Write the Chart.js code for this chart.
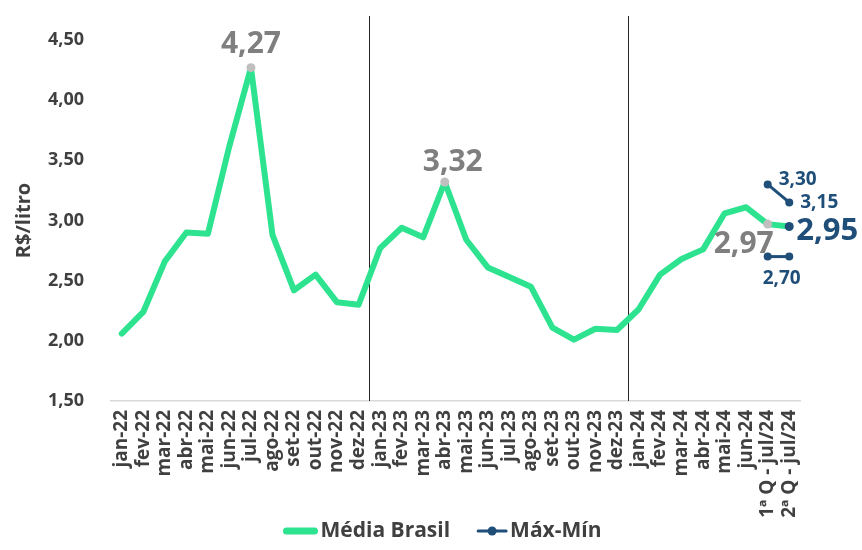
<!DOCTYPE html>
<html>
<head>
<meta charset="utf-8">
<script src="https://cdn.jsdelivr.net/npm/chart.js@4.4.1/dist/chart.umd.min.js"></script>
<style>
  html, body { margin: 0; padding: 0; background: #fff; }
  #wrap { width: 862px; height: 550px; position: relative; }
</style>
</head>
<body>
<div id="wrap"><canvas id="chart"></canvas></div>
<script>
// ===== DATA =====
const months = ['jan-22','fev-22','mar-22','abr-22','mai-22','jun-22','jul-22','ago-22','set-22','out-22','nov-22','dez-22',
  'jan-23','fev-23','mar-23','abr-23','mai-23','jun-23','jul-23','ago-23','set-23','out-23','nov-23','dez-23',
  'jan-24','fev-24','mar-24','abr-24','mai-24','jun-24','1ª Q - jul/24','2ª Q - jul/24'];
const mediaBrasil = [2.06,2.24,2.66,2.90,2.89,3.62,4.27,2.88,2.42,2.55,2.32,2.30,
  2.77,2.94,2.86,3.32,2.84,2.61,2.53,2.45,2.11,2.01,2.10,2.09,
  2.26,2.55,2.68,2.76,3.06,3.11,2.97,2.95];
const maxValues = [3.30, 3.15];   // 1ª Q, 2ª Q jul/24
const minValues = [2.70, 2.70];
const yTicks = [1.5, 2.0, 2.5, 3.0, 3.5, 4.0, 4.5];
const yearStarts = [12, 24];        // index of jan-23, jan-24
const highlight = [6, 15, 30, 31];  // points with labels

const GREEN = '#2EE38F', BLUE = '#1F4E79', GRAY = '#7F7F7F', PTGRAY = '#BFBFBF', TXT = '#404040';
const FONT = "'Open Sans', sans-serif";
const fmt = v => v.toFixed(2).replace('.', ',');

const pad = arr => Array(months.length - arr.length).fill(null).concat(arr);

// label placement: [dataset, index, align, dx, dy, size, color]
const labelDefs = [
  [0, 6, 'center', 0, -15, 30, GRAY],
  [0, 15, 'center', 8, -11, 30, GRAY],
  [0, 30, 'right', 6, 29, 30, GRAY],
  [0, 31, 'left', 7, 13, 31, BLUE],
  [1, 30, 'left', 11, 1, 19, BLUE],
  [1, 31, 'left', 11, 6, 19, BLUE],
  [2, 30, 'center', 14, 27, 19, BLUE],
];

const yearLines = {
  id: 'yearLines',
  beforeDatasetsDraw(chart) {
    const {ctx, chartArea, scales: {x}} = chart;
    ctx.save();
    ctx.strokeStyle = '#262626';
    ctx.lineWidth = 1;
    yearStarts.forEach(i => {
      const px = Math.round((x.getPixelForValue(i - 1) + x.getPixelForValue(i)) / 2) + 0.5;
      ctx.beginPath();
      ctx.moveTo(px, 16);
      ctx.lineTo(px, chartArea.bottom);
      ctx.stroke();
    });
    ctx.restore();
  }
};

const valueLabels = {
  id: 'valueLabels',
  afterDatasetsDraw(chart) {
    const ctx = chart.ctx;
    ctx.save();
    labelDefs.forEach(([ds, i, align, dx, dy, size, color]) => {
      const el = chart.getDatasetMeta(ds).data[i];
      const v = chart.data.datasets[ds].data[i];
      ctx.font = `700 ${size}px ${FONT}`;
      ctx.fillStyle = color;
      ctx.textAlign = align;
      ctx.textBaseline = 'alphabetic';
      ctx.fillText(fmt(v), el.x + dx, el.y + dy);
    });
    ctx.restore();
  }
};

// legend drawn by hand so it sits where the original one does
const customLegend = {
  id: 'customLegend',
  afterDraw(chart) {
    const ctx = chart.ctx;
    const items = chart.data.datasets.filter(d => !d.noLegend);
    ctx.save();
    ctx.font = `700 21px ${FONT}`;
    const iconW = 36, gap = 2, itemGap = 26;
    const widths = items.map(d => iconW + gap + ctx.measureText(d.label).width);
    const total = widths.reduce((s, w) => s + w, 0) + itemGap * (items.length - 1);
    let x = 444 - total / 2;
    const y = 531;
    items.forEach((d, k) => {
      ctx.strokeStyle = d.borderColor;
      ctx.lineCap = 'round';
      if (d.legendDot) {
        ctx.lineWidth = 3;
        ctx.beginPath(); ctx.moveTo(x + 2, y); ctx.lineTo(x + iconW - 6, y); ctx.stroke();
        ctx.fillStyle = d.borderColor;
        ctx.beginPath(); ctx.arc(x + (iconW - 4) / 2, y, 4.5, 0, Math.PI * 2); ctx.fill();
      } else {
        ctx.lineWidth = 7;
        ctx.beginPath(); ctx.moveTo(x + 4, y); ctx.lineTo(x + iconW - 4, y); ctx.stroke();
      }
      ctx.fillStyle = TXT;
      ctx.textAlign = 'left';
      ctx.textBaseline = 'middle';
      ctx.fillText(d.label, x + iconW + gap - (d.legendDot ? 4 : 0), y);
      x += widths[k] + itemGap;
    });
    ctx.restore();
  }
};

new Chart(document.getElementById('chart'), {
  type: 'line',
  data: {
    labels: months,
    datasets: [
      {
        label: 'Média Brasil',
        data: mediaBrasil,
        borderColor: GREEN,
        borderWidth: 6,
        borderJoinStyle: 'round',
        borderCapStyle: 'round',
        tension: 0,
        pointRadius: mediaBrasil.map((_, i) => highlight.includes(i) ? 4.5 : 0),
        pointBackgroundColor: mediaBrasil.map((_, i) => i === months.length - 1 ? BLUE : PTGRAY),
        pointBorderWidth: 0,
        order: 2,
      },
      {
        label: 'Máx-Mín',
        data: pad(maxValues),
        borderColor: BLUE,
        backgroundColor: BLUE,
        borderWidth: 3,
        pointRadius: 4,
        pointBorderWidth: 0,
        legendDot: true,
        order: 1,
      },
      {
        label: 'Mín',
        data: pad(minValues),
        borderColor: BLUE,
        backgroundColor: BLUE,
        borderWidth: 3,
        pointRadius: 4,
        pointBorderWidth: 0,
        noLegend: true,
        order: 1,
      }
    ]
  },
  options: {
    responsive: true,
    maintainAspectRatio: false,
    animation: false,
    layout: { padding: { left: 0, right: 62, top: 40, bottom: 0 } },
    plugins: {
      legend: { display: false },
      tooltip: { enabled: false },
    },
    scales: {
      x: {
        offset: true,
        grid: { display: false, drawTicks: false },
        border: { display: true, color: '#D9D9D9', width: 1.5 },
        ticks: {
          autoSkip: false, minRotation: 90, maxRotation: 90, padding: 9,
          color: TXT, font: { family: FONT, size: 19, weight: '700' }
        },
        afterFit: s => { s.height = 149; }
      },
      y: {
        min: 1.5, max: 4.5,
        afterBuildTicks: s => { s.ticks = yTicks.map(v => ({ value: v })); },
        grid: { display: false, drawTicks: false },
        border: { display: false },
        ticks: {
          padding: 27, color: TXT,
          font: { family: FONT, size: 18, weight: '700' },
          callback: v => fmt(v)
        },
        title: {
          display: true, text: 'R$/litro', color: TXT,
          font: { family: FONT, size: 20, weight: '700' },
          padding: { top: 12, bottom: 0 }
        },
        afterFit: s => { s.width = 111; }
      }
    }
  },
  plugins: [yearLines, valueLabels, customLegend]
});
</script>
</body>
</html>
